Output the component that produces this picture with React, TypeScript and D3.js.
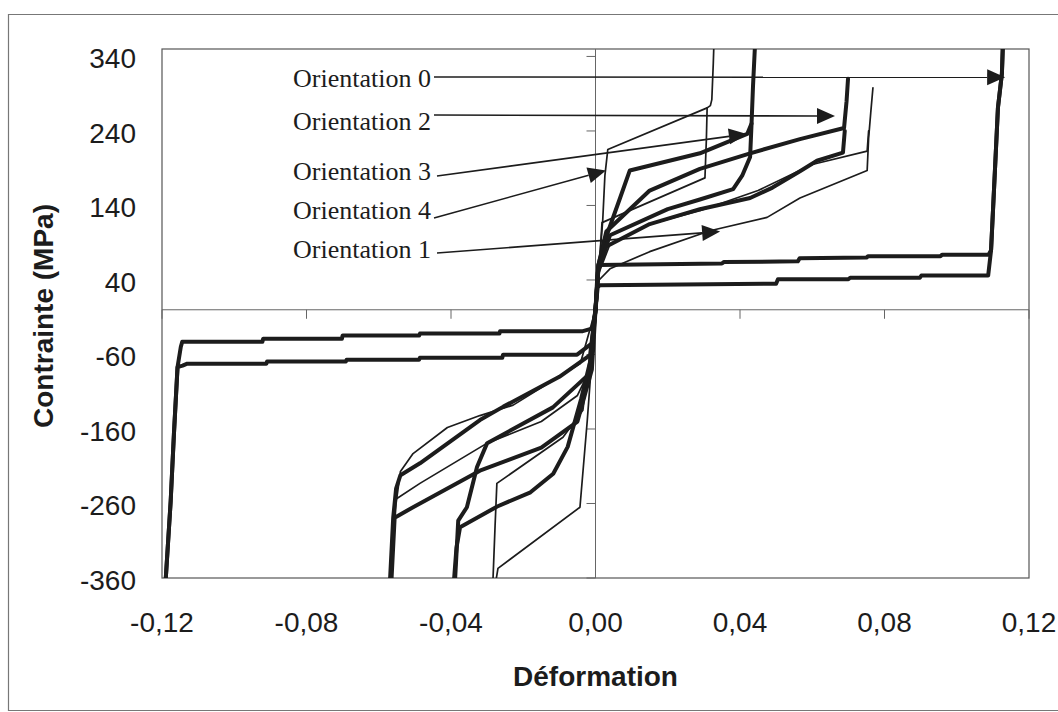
import React from 'react';
import * as d3 from 'd3';

type Pt = [number, number];

// ---- axis ticks ----
const xTicks = [-0.12, -0.08, -0.04, 0, 0.04, 0.08, 0.12];
const yTicks = [-360, -260, -160, -60, 40, 140, 240, 340];

// ---- tension curves (strain, stress MPa) ----
const t0a: Pt[] = [[0,0],[0.0005,45],[0.0008,60],[0.035,62],[0.0355,64],[0.056,65],[0.0565,69],[0.075,70],[0.0755,72],[0.0955,72],[0.096,74],[0.1088,74],[0.1095,80],[0.1106,190],[0.1114,271],[0.1125,317],[0.1128,360]];
const t0b: Pt[] = [[0,0],[0.0006,30],[0.0012,33],[0.05,35],[0.0505,41],[0.07,41],[0.0705,43],[0.0898,43],[0.0902,46],[0.1087,46],[0.1095,80],[0.1106,190],[0.1114,271],[0.1125,317],[0.1128,360]];
const t2a: Pt[] = [[0,0],[0.0008,60],[0.003,105],[0.015,160],[0.0289,189],[0.0428,210],[0.0566,229],[0.0688,244],[0.0695,280],[0.0699,310]];
const t2b: Pt[] = [[0,0],[0.0008,55],[0.003,85],[0.015,115],[0.0289,135],[0.0428,150],[0.049,164],[0.0566,186],[0.0613,200],[0.0685,211],[0.069,240]];
const t3a: Pt[] = [[0,0],[0.0008,60],[0.0026,93],[0.0068,150],[0.0095,187],[0.0289,210],[0.042,236],[0.0432,250],[0.0436,300],[0.0442,360]];
const t3b: Pt[] = [[0,0],[0.0008,55],[0.004,100],[0.02,135],[0.0289,148],[0.0381,162],[0.0406,180],[0.0428,205],[0.0432,250]];
const t1a: Pt[] = [[0,0],[0.001,40],[0.004,55],[0.015,78],[0.0317,106],[0.0475,124],[0.0566,150],[0.0752,187],[0.0756,230],[0.0762,265],[0.0768,298]];
const t1b: Pt[] = [[0,0],[0.001,50],[0.004,88],[0.015,115],[0.0289,133],[0.045,160],[0.06,195],[0.0752,213],[0.0756,240]];
const t4a: Pt[] = [[0,0],[0.0012,70],[0.002,120],[0.0026,180],[0.0034,215],[0.0309,271],[0.0318,274],[0.0322,282],[0.0326,330],[0.0328,360]];
const t4b: Pt[] = [[0,0],[0.001,55],[0.0018,117],[0.0303,177],[0.0307,230],[0.0309,271]];

// ---- compression curves ----
const c0a: Pt[] = [[0,0],[-0.0008,-25],[-0.0035,-28.7],[-0.0264,-28.7],[-0.0266,-32],[-0.0486,-32],[-0.0488,-34.5],[-0.07,-34.5],[-0.0702,-39],[-0.092,-39],[-0.0922,-43],[-0.1144,-43],[-0.1148,-50],[-0.1157,-77],[-0.1167,-167],[-0.1176,-257],[-0.119,-364]];
const c0b: Pt[] = [[0,0],[-0.001,-45],[-0.0051,-60.3],[-0.0256,-60.3],[-0.0258,-64.3],[-0.0486,-64.3],[-0.0488,-67],[-0.0689,-67],[-0.0691,-69.3],[-0.0909,-69.3],[-0.0911,-72.3],[-0.113,-72.3],[-0.1143,-75],[-0.1157,-77],[-0.1167,-167],[-0.1176,-257],[-0.119,-364]];
const c2a: Pt[] = [[0,0],[-0.0015,-61],[-0.01,-90],[-0.0255,-130],[-0.032,-148],[-0.0486,-206],[-0.054,-222],[-0.0552,-240],[-0.056,-279],[-0.0569,-365]];
const c2b: Pt[] = [[0,0],[-0.001,-80],[-0.005,-150],[-0.015,-185],[-0.032,-216],[-0.0505,-265],[-0.0556,-279],[-0.0565,-365]];
const c3a: Pt[] = [[0,0],[-0.0015,-85],[-0.0118,-131],[-0.03,-179],[-0.0328,-211],[-0.0356,-265],[-0.038,-283],[-0.0384,-320],[-0.0389,-365]];
const c3b: Pt[] = [[0,0],[-0.0015,-70],[-0.004,-120],[-0.0077,-184],[-0.0117,-220],[-0.018,-245],[-0.0272,-264],[-0.0375,-292],[-0.0385,-320],[-0.0392,-365]];
const c2aThin: Pt[] = [[0,0],[-0.0042,-72],[-0.0228,-128],[-0.032,-142],[-0.041,-158],[-0.0505,-193],[-0.054,-217],[-0.0552,-260],[-0.0558,-300],[-0.0565,-365]];
const c2bThin: Pt[] = [[0,0],[-0.001,-75],[-0.005,-115],[-0.015,-150],[-0.03,-179],[-0.0486,-233],[-0.0555,-255],[-0.056,-280],[-0.0569,-365]];
const c4a: Pt[] = [[0,0],[-0.0035,-135],[-0.009,-171],[-0.0273,-233],[-0.0278,-290],[-0.0284,-365]];
const c4b: Pt[] = [[0,0],[-0.0023,-150],[-0.0043,-265],[-0.027,-347],[-0.0276,-365]];

const thickCurves = [t0a, t0b, t2a, t2b, t3a, t3b, c0a, c0b, c2a, c2b, c3a, c3b];
const thinCurves = [t1a, t1b, t4a, t4b, c2aThin, c2bThin, c4a, c4b];

// ---- annotations ----
const annLabels = ['Orientation 0', 'Orientation 2', 'Orientation 3', 'Orientation 4', 'Orientation 1'];
const annTipStrain = [0.1134, 0.0663, 0.0419, 0.0029, 0.0345];
const annTipStress = [312, 260, 236, 187, 105];

const W = 1058, H = 712;
const plot = { left: 162, right: 1029, top: 49, bottom: 578 };
const annLayout = [
  { tx: 293, ty: 86.5, lx: 434, ly: 77 },
  { tx: 293, ty: 130, lx: 434, ly: 115 },
  { tx: 293, ty: 180, lx: 437, ly: 176 },
  { tx: 293, ty: 219, lx: 434, ly: 218 },
  { tx: 293, ty: 258, lx: 437, ly: 253 },
];

const sans = "'Liberation Sans', Arial, Helvetica, sans-serif";
const serif = "'Liberation Serif', 'Times New Roman', serif";
const ink = '#1c1c1c';

export default function App() {
  const x = d3.scaleLinear().domain([-0.12, 0.12]).range([plot.left, plot.right]);
  const y = d3.scaleLinear().domain([-360, 350]).range([plot.bottom, plot.top]);
  const line = d3.line<Pt>().x(d => x(d[0])).y(d => y(d[1]));
  const fmtX = (v: number) => d3.format('.2f')(v).replace('.', ',').replace('\u2212', '-');

  const arrows = annLabels.map((lab, i) => {
    const L = annLayout[i];
    const tx = x(annTipStrain[i]);
    const ty = y(annTipStress[i]);
    const ang = Math.atan2(ty - L.ly, tx - L.lx);
    const len = 18, hw = 8;
    const bx = tx - len * Math.cos(ang), by = ty - len * Math.sin(ang);
    const px = -Math.sin(ang) * hw, py = Math.cos(ang) * hw;
    return { lab, L, tx, ty, bx, by, head: `${tx},${ty} ${bx + px},${by + py} ${bx - px},${by - py}` };
  });

  return (
    <svg width={W} height={H} style={{ position: 'absolute', left: 0, top: 0, background: '#fff' }}>
      <defs>
        <clipPath id="plotClip">
          <rect x={plot.left} y={plot.top} width={plot.right - plot.left} height={plot.bottom - plot.top} />
        </clipPath>
      </defs>
      <rect x={0} y={0} width={W} height={H} fill="#fff" />
      {/* outer chart frame (runs off the right edge) */}
      <path d={`M1070,14.5 H8.5 V710.5 H1070`} fill="none" stroke="#777" strokeWidth={1.2} />
      {/* plot border */}
      <rect x={plot.left} y={plot.top} width={plot.right - plot.left} height={plot.bottom - plot.top} fill="none" stroke="#555" strokeWidth={1.2} />
      {/* axes through origin */}
      <line x1={plot.left} x2={plot.right} y1={y(0)} y2={y(0)} stroke="#666" strokeWidth={1} />
      <line x1={x(0)} x2={x(0)} y1={plot.top} y2={plot.bottom} stroke="#666" strokeWidth={1} />
      {xTicks.map(t => (
        <line key={'xt' + t} x1={x(t)} x2={x(t)} y1={y(0)} y2={y(0) + 9} stroke="#666" strokeWidth={1} />
      ))}
      {yTicks.map(t => (
        <line key={'yt' + t} x1={x(0) - 9} x2={x(0)} y1={y(t)} y2={y(t)} stroke="#666" strokeWidth={1} />
      ))}
      {/* curves */}
      <g clipPath="url(#plotClip)" fill="none" strokeLinejoin="round" strokeLinecap="round">
        {thinCurves.map((c, i) => (
          <path key={'thin' + i} d={line(c) || ''} stroke={ink} strokeWidth={1.7} />
        ))}
        {thickCurves.map((c, i) => (
          <path key={'thick' + i} d={line(c) || ''} stroke={ink} strokeWidth={4} />
        ))}
      </g>
      {/* annotations */}
      {arrows.map((a, i) => (
        <g key={'ann' + i}>
          <text x={a.L.tx} y={a.L.ty} fontFamily={serif} fontSize={26} fill={ink}>{a.lab}</text>
          <line x1={a.L.lx} y1={a.L.ly} x2={a.bx} y2={a.by} stroke={ink} strokeWidth={1.6} />
          <polygon points={a.head} fill={ink} />
        </g>
      ))}
      {/* tick labels */}
      {yTicks.map(t => (
        <text key={'yl' + t} x={136} y={y(t) + 12} textAnchor="end" fontFamily={sans} fontSize={28} fill={ink}>{t}</text>
      ))}
      {xTicks.map(t => (
        <text key={'xl' + t} x={x(t)} y={632} textAnchor="middle" fontFamily={sans} fontSize={28} fill={ink}>{fmtX(t)}</text>
      ))}
      {/* axis titles */}
      <text x={(plot.left + plot.right) / 2} y={686} textAnchor="middle" fontFamily={sans} fontSize={28} fontWeight="bold" fill={ink}>Déformation</text>
      <text transform={`translate(53,${316}) rotate(-90)`} textAnchor="middle" fontFamily={sans} fontSize={28} fontWeight="bold" fill={ink}>Contrainte (MPa)</text>
    </svg>
  );
}
